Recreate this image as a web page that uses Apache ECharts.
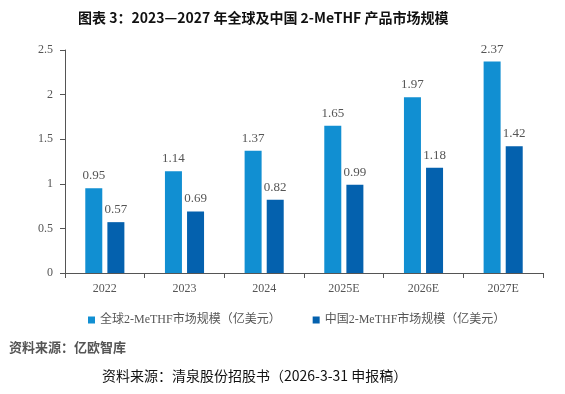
<!DOCTYPE html>
<html>
<head>
<meta charset="utf-8">
<style>
  html, body { margin: 0; padding: 0; background: #fff; }
  #chart { width: 565px; height: 394px; }
</style>
<script src="https://cdn.jsdelivr.net/npm/echarts@6/dist/echarts.min.js"></script>
</head>
<body>
<div id="chart"></div>
<script>
const years = ['2022', '2023', '2024', '2025E', '2026E', '2027E']
const globalSize = [0.95, 1.14, 1.37, 1.65, 1.97, 2.37]
const chinaSize = [0.57, 0.69, 0.82, 0.99, 1.18, 1.42]
const seriesNames = ['全球2-MeTHF市场规模（亿美元）', '中国2-MeTHF市场规模（亿美元）']

const chart = echarts.init(document.getElementById('chart'))
const serif = '"Liberation Serif", "Noto Sans CJK SC", serif'

chart.setOption({
  animation: false,
  color: ['#118fd2', '#0461ae'],
  title: [{
    text: '图表 3：2023—2027 年全球及中国 2-MeTHF 产品市场规模',
    left: 73,
    top: 6,
    textStyle: { fontSize: 14, fontWeight: 'bold', color: '#111', fontFamily: '"Noto Sans CJK SC", serif' }
  }, {
    text: '资料来源：亿欧智库',
    left: 4,
    top: 336,
    textStyle: { fontSize: 13, fontWeight: 'bold', color: '#555', fontFamily: '"Noto Sans CJK SC", serif' }
  }, {
    text: '资料来源：清泉股份招股书（2026-3-31 申报稿）',
    left: 97,
    top: 364,
    textStyle: { fontSize: 14, fontWeight: 'normal', color: '#111', fontFamily: '"Noto Sans CJK SC", serif' }
  }],
  grid: { left: 65, right: 22, top: 50, bottom: 121 },
  legend: {
    data: seriesNames,
    top: 309,
    left: 83,
    itemWidth: 7,
    itemHeight: 7,
    itemGap: 32,
    icon: 'rect',
    textStyle: { fontSize: 12, color: '#555', fontFamily: serif }
  },
  xAxis: {
    type: 'category',
    data: years,
    axisLine: { lineStyle: { color: '#555' } },
    axisTick: { show: true, lineStyle: { color: '#555' } },
    axisLabel: { color: '#555', fontSize: 12, fontFamily: serif, margin: 10 }
  },
  yAxis: {
    type: 'value',
    min: 0,
    max: 2.5,
    interval: 0.5,
    axisLine: { show: true, lineStyle: { color: '#555' } },
    axisTick: { show: true, lineStyle: { color: '#555' } },
    splitLine: { show: false },
    axisLabel: { color: '#555', fontSize: 12, fontFamily: serif, margin: 12 }
  },
  series: [{
    name: seriesNames[0],
    type: 'bar',
    data: globalSize,
    barWidth: 17,
    barGap: '30%',
    label: { show: true, position: 'top', distance: 6, color: '#555', fontSize: 13, fontFamily: serif }
  }, {
    name: seriesNames[1],
    type: 'bar',
    data: chinaSize,
    barWidth: 17,
    barGap: '30%',
    label: { show: true, position: 'top', distance: 6, color: '#555', fontSize: 13, fontFamily: serif }
  }]
})
</script>
</body>
</html>
